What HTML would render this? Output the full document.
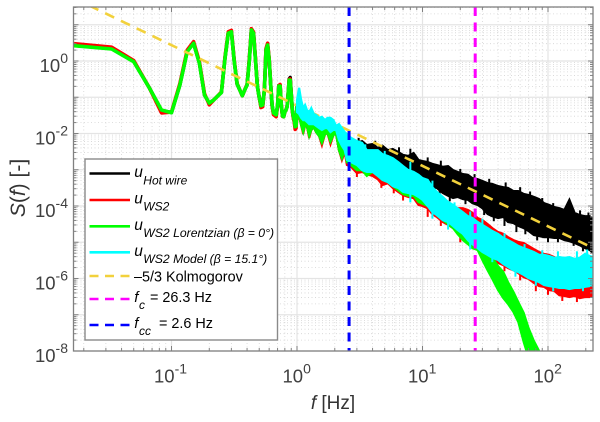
<!DOCTYPE html>
<html lang="en">
<head>
<meta charset="utf-8">
<title>Spectra chart</title>
<style>
html,body{margin:0;padding:0;background:#fff;width:600px;height:422px;overflow:hidden}
svg{display:block;font-family:"Liberation Sans",sans-serif;filter:blur(0.35px)}
</style>
</head>
<body>
<svg id="chart" xmlns="http://www.w3.org/2000/svg" width="600" height="422" viewBox="0 0 600 422">
<defs><clipPath id="plot-clip"><rect x="73.5" y="7" width="519.5" height="344"/></clipPath></defs>
<rect width="600" height="422" fill="#fff"/>
<g id="grid"></g>
<g id="series" clip-path="url(#plot-clip)"></g>
<g id="axes"></g>
<text transform="translate(25,188) rotate(-90)" text-anchor="middle" font-size="21" fill="#333"><tspan font-style="italic">S</tspan>(<tspan font-style="italic">f</tspan>) [-]</text>
<text x="333" y="409" text-anchor="middle" font-size="19" fill="#333"><tspan font-style="italic">f</tspan> [Hz]</text>
<g>
<rect x="85" y="159" width="192.5" height="181" fill="#fff" stroke="#8a8a8a" stroke-width="1.4"/>
<g>
<line x1="89.5" x2="130" y1="173.5" y2="173.5" stroke="#000" stroke-width="2.6"/>
<text x="134.3" y="177" font-size="15.5" font-style="italic">u</text><text x="143.3" y="184.5" font-size="12" font-style="italic">Hot wire</text>
</g>
<g>
<line x1="89.5" x2="130" y1="200" y2="200" stroke="#f00" stroke-width="2.6"/>
<text x="134.3" y="203.5" font-size="15.5" font-style="italic">u</text><text x="143.3" y="210.5" font-size="12" font-style="italic">WS2</text>
</g>
<g>
<line x1="89.5" x2="130" y1="226.3" y2="226.3" stroke="#0f0" stroke-width="2.6"/>
<text x="134.3" y="230" font-size="15.5" font-style="italic">u</text><text x="143.3" y="237" font-size="12.2" font-style="italic">WS2 Lorentzian (β = 0°)</text>
</g>
<g>
<line x1="89.5" x2="130" y1="252.3" y2="252.3" stroke="#0ff" stroke-width="2.6"/>
<text x="134.3" y="256" font-size="15.5" font-style="italic">u</text><text x="143.3" y="263" font-size="12.2" font-style="italic">WS2 Model (β = 15.1°)</text>
</g>
<g>
<line x1="89.5" x2="130" y1="276" y2="276" stroke="#f2d13c" stroke-width="2.6" stroke-dasharray="9 6.5"/>
<text x="134" y="281.7" font-size="14.4">–5/3 Kolmogorov</text>
</g>
<g>
<line x1="89.5" x2="130" y1="299" y2="299" stroke="#f0f" stroke-width="2.6" stroke-dasharray="9 6.5"/>
<text x="134.3" y="302" font-size="15" font-style="italic">f</text><text x="139" y="309" font-size="12" font-style="italic">c</text><text x="150" y="302" font-size="14.4">= 26.3 Hz</text>
</g>
<g>
<line x1="89.5" x2="130" y1="325" y2="325" stroke="#00f" stroke-width="2.6" stroke-dasharray="9 6.5"/>
<text x="134.3" y="328" font-size="15" font-style="italic">f</text><text x="139" y="335" font-size="12" font-style="italic">cc</text><text x="159" y="328" font-size="14.4">= 2.6 Hz</text>
</g>
</g>
</svg>
<script>
// axis tick data
const xTickExponents = [-1, 0, 1, 2];
const yTickExponents = [0, -2, -4, -6, -8];
const xGridDecades = [-2, -1, 0, 1, 2];
const yGridDecades = [-8, -7, -6, -5, -4, -3, -2, -1, 0, 1];
const minorMultipliers = [2, 3, 4, 5, 6, 7, 8, 9];

// low-frequency spectrum (Hz, S)
const lowFreq = [0.0167,0.0333,0.05,0.0667,0.0833,0.1,0.1167,0.1333,0.15,0.1667,0.1833,0.2,0.2167,0.2333,0.25,0.2667,0.2833,0.3,0.3167,0.3333,0.35,0.3667,0.3833,0.4,0.4167,0.4333,0.45,0.4667,0.4833,0.5,0.5167,0.5333,0.55,0.5667,0.5833,0.6,0.6167,0.6333,0.65,0.6667,0.6833,0.7,0.7167,0.7333,0.75,0.7667,0.7833,0.8,0.8167,0.8333,0.85,0.8667,0.8833,0.9,0.9167,0.9333,0.95,0.9667,0.9833,1.0];
const lorentzianLow = [2.64,2.14,0.956,0.18,0.0445,0.0375,0.218,1.8,3.08,0.86,0.115,0.069,0.084,0.108,0.134,1.2,5.9,6.4,0.94,0.232,0.158,0.11,0.158,0.218,1.0,7.2,5.9,1.06,0.196,0.1,0.0585,0.061,0.158,2.0,2.76,1.06,0.218,0.061,0.0367,0.0345,0.0325,0.061,0.204,0.204,0.061,0.0305,0.029,0.039,0.0445,0.054,0.115,0.3,0.3,0.115,0.0445,0.03,0.0235,0.0154,0.016,0.061];
const ws2Low = [3.0,2.4,1.03,0.18,0.037,0.039,0.24,2.0,3.4,0.95,0.125,0.062,0.084,0.108,0.14,1.3,6.4,7.0,1.0,0.24,0.16,0.11,0.16,0.225,1.1,7.8,6.3,1.15,0.2,0.1,0.052,0.055,0.16,2.2,3.1,1.15,0.22,0.058,0.033,0.031,0.029,0.06,0.21,0.225,0.062,0.03,0.029,0.039,0.0445,0.056,0.12,0.31,0.32,0.115,0.042,0.028,0.021,0.013,0.014,0.061];
const hotWireLow = [2.7,2.2,0.98,0.18,0.043,0.038,0.22,1.85,3.1,0.88,0.115,0.068,0.084,0.108,0.135,1.2,6.0,6.5,0.95,0.232,0.158,0.11,0.158,0.22,1.05,7.3,6.0,1.08,0.2,0.1,0.057,0.06,0.16,2.05,2.85,1.08,0.22,0.06,0.036,0.034,0.032,0.06,0.21,0.21,0.06,0.03,0.029,0.039,0.045,0.055,0.118,0.32,0.35,0.118,0.044,0.03,0.023,0.015,0.016,0.061];

// high-frequency noisy envelopes: frequency in Hz, upper and lower log10(S)
const bandFreq = [1.0,1.04,1.08,1.12,1.16,1.2,1.25,1.3,1.36,1.42,1.5,1.58,1.67,1.75,1.85,1.95,2.05,2.16,2.28,2.4,2.5,2.7,3,3.3,3.6,4,4.4,4.8,5.3,5.8,6.4,7,7.7,8.5,9.3,10,11,12,13,14.5,16,17.5,19,21,23,25,27.5,30,33,36,40,44,48,53,58,64,70,77,85,93,102,112,123,135,148,163,179,197,215,229];
const hotWireUpper = [-1.21,-0.94,-1.41,-1.41,-1.49,-1.49,-1.57,-1.57,-1.63,-1.63,-1.68,-1.68,-1.74,-1.74,-1.77,-1.77,-1.90,-1.90,-2.12,-2.12,-2.18,-2.23,-2.26,-2.21,-2.32,-2.29,-2.40,-2.34,-2.46,-2.43,-2.51,-2.59,-2.62,-2.54,-2.73,-2.76,-2.79,-2.84,-2.87,-2.92,-2.90,-3.01,-3.06,-3.12,-3.14,-3.23,-3.26,-3.31,-3.37,-3.39,-3.45,-3.48,-3.50,-3.59,-3.59,-3.67,-3.70,-3.75,-3.81,-3.92,-3.97,-4.03,-4.06,-4.11,-3.83,-4.19,-4.25,-4.28,-4.28,-4.36];
const hotWireLower = [-1.57,-1.52,-1.77,-1.96,-1.77,-1.79,-2.07,-1.90,-1.82,-1.96,-2.07,-2.26,-2.01,-1.99,-2.23,-2.04,-2.01,-2.46,-2.68,-2.46,-2.46,-2.46,-2.51,-2.54,-2.59,-2.62,-2.68,-2.73,-2.81,-2.84,-2.95,-3.01,-3.06,-3.14,-3.23,-3.34,-3.39,-3.48,-3.50,-3.64,-3.72,-3.78,-3.75,-3.81,-3.83,-3.92,-3.97,-4.06,-4.22,-4.28,-4.33,-4.30,-4.44,-4.47,-4.55,-4.61,-4.69,-4.80,-4.83,-4.86,-4.86,-4.88,-4.88,-4.94,-4.97,-5.02,-5.08,-5.16,-5.21,-5.30];
const ws2Upper = [-1.21,-0.94,-1.41,-1.41,-1.49,-1.49,-1.57,-1.57,-1.63,-1.63,-1.68,-1.68,-1.74,-1.74,-1.77,-1.77,-1.90,-1.90,-2.12,-2.12,-2.40,-2.46,-2.59,-2.68,-2.73,-2.79,-2.87,-2.95,-3.01,-3.06,-3.14,-3.23,-3.28,-3.34,-3.45,-3.56,-3.61,-3.72,-3.78,-3.83,-3.94,-4.00,-4.06,-4.06,-4.11,-4.19,-4.33,-4.39,-4.50,-4.61,-4.72,-4.77,-4.86,-4.94,-4.99,-5.02,-5.10,-5.19,-5.27,-5.32,-5.35,-5.41,-5.46,-5.49,-5.52,-5.54,-5.54,-5.54,-5.54,-5.54];
const ws2Lower = [-1.57,-1.52,-1.77,-2.01,-1.77,-1.79,-2.12,-1.90,-1.82,-1.96,-2.07,-2.32,-2.01,-1.99,-2.29,-2.04,-2.01,-2.46,-2.73,-2.51,-2.87,-2.92,-3.09,-3.06,-3.12,-3.17,-3.26,-3.42,-3.37,-3.50,-3.61,-3.70,-3.75,-3.78,-3.97,-4.00,-4.06,-4.22,-4.30,-4.44,-4.52,-4.61,-4.72,-4.88,-4.97,-5.05,-5.16,-5.27,-5.38,-5.46,-5.57,-5.63,-5.71,-5.77,-5.85,-5.96,-6.01,-6.12,-6.21,-6.23,-6.32,-6.34,-6.46,-6.48,-6.51,-6.48,-6.54,-6.51,-6.51,-6.46];
const lorentzianUpper = [-1.21,-0.94,-1.41,-1.41,-1.49,-1.49,-1.57,-1.57,-1.63,-1.63,-1.68,-1.68,-1.74,-1.74,-1.77,-1.77,-1.90,-1.90,-2.12,-2.12,-2.46,-2.51,-2.62,-2.68,-2.73,-2.79,-2.87,-2.95,-3.01,-3.06,-3.14,-3.23,-3.28,-3.34,-3.45,-3.56,-3.61,-3.72,-3.78,-3.89,-4.00,-4.11,-4.22,-4.44,-4.61,-4.77,-4.94,-5.10,-5.27,-5.43,-5.66,-5.82,-6.10,-6.37,-6.65,-6.95,-7.37,-7.72,-8.00];
const lorentzianLower = [-1.57,-1.52,-1.77,-1.96,-1.77,-1.79,-2.07,-1.90,-1.82,-1.96,-2.07,-2.26,-2.01,-1.99,-2.23,-2.04,-2.01,-2.46,-2.68,-2.46,-2.79,-2.87,-3.01,-3.01,-3.17,-3.06,-3.17,-3.28,-3.34,-3.45,-3.56,-3.67,-3.72,-3.72,-3.89,-3.94,-4.00,-4.11,-4.25,-4.39,-4.50,-4.61,-4.77,-4.94,-5.05,-5.16,-5.21,-5.49,-5.77,-6.01,-6.32,-6.54,-6.70,-6.92,-7.20,-7.75,-8.19,-8.66,-8.80];
const modelUpper = [-1.08,-0.74,-1.08,-1.30,-1.21,-1.35,-1.41,-1.30,-1.46,-1.49,-1.57,-1.54,-1.63,-1.57,-1.57,-1.63,-1.79,-1.74,-1.85,-1.96,-2.01,-2.12,-2.21,-2.26,-2.46,-2.46,-2.46,-2.57,-2.62,-2.68,-2.79,-2.90,-3.01,-3.06,-3.14,-3.23,-3.28,-3.48,-3.61,-3.75,-3.89,-3.97,-4.06,-4.17,-4.28,-4.33,-4.44,-4.52,-4.61,-4.69,-4.77,-4.88,-4.94,-5.02,-5.10,-5.16,-5.21,-5.27,-5.35,-5.35,-5.38,-5.43,-5.41,-5.43,-5.41,-5.46,-5.43,-5.32,-5.38,-5.41];
const modelLower = [-1.41,-1.46,-1.57,-1.63,-1.63,-1.68,-1.74,-1.74,-1.74,-1.79,-1.85,-1.90,-1.85,-1.85,-1.96,-1.90,-1.90,-2.18,-2.34,-2.46,-2.73,-2.79,-2.87,-3.01,-3.06,-3.06,-3.17,-3.28,-3.34,-3.45,-3.50,-3.61,-3.64,-3.67,-3.75,-3.83,-4.00,-4.17,-4.25,-4.39,-4.44,-4.55,-4.66,-4.77,-4.94,-5.05,-5.16,-5.27,-5.35,-5.43,-5.49,-5.60,-5.68,-5.77,-5.82,-5.90,-5.99,-6.04,-6.10,-6.18,-6.21,-6.23,-6.26,-6.26,-6.29,-6.26,-6.26,-6.23,-6.21,-6.12];

// isolated noise spikes beyond the envelopes: frequency in Hz, tip log10(S)
const hotWireTopSpikeFreq = [3.1,4.2,6.5,8,11,14,20,26,34,46,60,72,90,110,180,210];
const hotWireTopSpikeTip = [-2.12,-2.2,-2.38,-2.42,-2.66,-2.75,-2.98,-3.12,-3.25,-3.35,-3.48,-3.6,-3.78,-3.92,-4.12,-4.18];
const hotWireLowSpikeFreq = [7.3,9.9,13.7,16.5,22,31,37,45,56,66,82,100,120,160,190];
const hotWireLowSpikeTip = [-3.1,-3.5,-3.68,-3.87,-3.95,-4.25,-4.42,-4.55,-4.72,-4.78,-4.95,-5.0,-5.0,-5.1,-5.25];
const ws2LowSpikeFreq = [3,4.7,5.9,7,11,14,20,45,60,80,100,130,170];
const ws2LowSpikeTip = [-3.2,-3.5,-3.65,-3.85,-4.3,-4.55,-5.0,-5.8,-6.05,-6.35,-6.45,-6.62,-6.65];
const modelTopSpikeFreq = [3.5,5,8,12,18,24,30,45,65,90,120,170,205];
const modelTopSpikeTip = [-2.3,-2.48,-2.78,-3.3,-3.9,-4.15,-4.35,-4.75,-5.05,-5.22,-5.25,-5.25,-5.2];
const modelLowSpikeFreq = [8,12,16,24,36,55,80,110,190];
const modelLowSpikeTip = [-3.9,-4.35,-4.65,-5.2,-5.55,-5.95,-6.2,-6.35,-6.35];

// reference line and cutoff frequencies
const kolmogorovFreq = [0.0166, 229];
const kolmogorovS = [54.8, 0.0000069];
const cutoffFc = 26.3;
const cutoffFcc = 2.6;

const NS = 'http://www.w3.org/2000/svg';
const xScale = f => 297 + 125.5 * Math.log10(f);
const yScale = s => 61 - 36.25 * Math.log10(s);
const yLog = e => yScale(Math.pow(10, e));
const plotLeft = 73.5, plotRight = 593, plotTop = 7, plotBottom = 351;

function make(tag, parent, attrs) {
  const el = document.createElementNS(NS, tag);
  Object.keys(attrs).forEach(k => el.setAttribute(k, attrs[k]));
  parent.appendChild(el);
  return el;
}

const grid = document.getElementById('grid');
const axes = document.getElementById('axes');
const seriesGroup = document.getElementById('series');

function gridLine(x1, y1, x2, y2, major, name) {
  const attrs = { x1, y1, x2, y2, stroke: major ? '#e4e4e4' : '#d4d4d4', 'stroke-width': major ? 1.2 : 0.8 };
  if (!major) attrs['stroke-dasharray'] = '1 2.5';
  const el = make('line', grid, attrs);
  
  
}
function tick(x1, y1, x2, y2) {
  const el = make('line', axes, { x1, y1, x2, y2, stroke: '#808080', 'stroke-width': 1 });
  
  
}

xGridDecades.forEach(d => {
  const major = xScale(Math.pow(10, d));
  if (major >= plotLeft && major <= plotRight) {
    gridLine(major, plotTop, major, plotBottom, true, 'x-major-gridline');
    tick(major, plotBottom, major, plotBottom - 5);
    tick(major, plotTop, major, plotTop + 5);
  }
  minorMultipliers.forEach(m => {
    const x = xScale(m * Math.pow(10, d));
    if (x >= plotLeft && x <= plotRight) {
      gridLine(x, plotTop, x, plotBottom, false, 'x-minor-gridline');
      tick(x, plotBottom, x, plotBottom - 3);
      tick(x, plotTop, x, plotTop + 3);
    }
  });
});
yGridDecades.forEach(d => {
  const major = yScale(Math.pow(10, d));
  if (major >= plotTop && major <= plotBottom) {
    gridLine(plotLeft, major, plotRight, major, true, 'y-major-gridline');
    tick(plotLeft, major, plotLeft + 5, major);
    tick(plotRight, major, plotRight - 5, major);
  }
  minorMultipliers.forEach(m => {
    const y = yScale(m * Math.pow(10, d));
    if (y >= plotTop && y <= plotBottom) {
      gridLine(plotLeft, y, plotRight, y, false, 'y-minor-gridline');
      tick(plotLeft, y, plotLeft + 3, y);
      tick(plotRight, y, plotRight - 3, y);
    }
  });
});

function bandPath(upper, lower) {
  const top = upper.map((e, i) => xScale(bandFreq[i]).toFixed(1) + ',' + yLog(e).toFixed(1));
  const bottom = lower.map((e, i) => xScale(bandFreq[i]).toFixed(1) + ',' + yLog(e).toFixed(1)).reverse();
  return 'M' + top.join('L') + 'L' + bottom.join('L') + 'Z';
}
function linePath(freqs, values) {
  return 'M' + values.map((s, i) => xScale(freqs[i]).toFixed(1) + ',' + yScale(s).toFixed(1)).join('L');
}
function drawLine(freqs, values, color, name) {
  const line = make('path', seriesGroup, { d: linePath(freqs, values), fill: 'none', stroke: color, 'stroke-width': 3.6, 'stroke-linejoin': 'round' });
  
  
}
function drawBand(upper, lower, color, name) {
  const band = make('path', seriesGroup, { d: bandPath(upper, lower), fill: color, stroke: color, 'stroke-width': 2.2, 'stroke-linejoin': 'miter' });
  
  
}
function drawSpikes(freqs, tips, direction, color, name) {
  tips.forEach((tip, i) => {
    const x = xScale(freqs[i]);
    const spike = make('line', seriesGroup, { x1: x, x2: x, y1: yLog(tip), y2: yLog(tip + direction * 0.4), stroke: color, 'stroke-width': 2 });
    
    
  });
}

drawLine(lowFreq, hotWireLow, '#000', 'hot-wire-line');
drawBand(hotWireUpper, hotWireLower, '#000', 'hot-wire-band');
drawSpikes(hotWireTopSpikeFreq, hotWireTopSpikeTip, -1, '#000', 'hot-wire-top-spike');
drawSpikes(hotWireLowSpikeFreq, hotWireLowSpikeTip, 1, '#000', 'hot-wire-low-spike');
drawLine(lowFreq, ws2Low, '#f00', 'ws2-line');
drawBand(ws2Upper, ws2Lower, '#f00', 'ws2-band');
drawSpikes(ws2LowSpikeFreq, ws2LowSpikeTip, 1, '#f00', 'ws2-low-spike');
drawLine(lowFreq, lorentzianLow, '#0f0', 'ws2-lorentzian-line');
drawBand(lorentzianUpper, lorentzianLower, '#0f0', 'ws2-lorentzian-band');

const kolmogorovLine = make('path', seriesGroup, { d: linePath(kolmogorovFreq, kolmogorovS), fill: 'none', stroke: '#f2d13c', 'stroke-width': 2.6, 'stroke-dasharray': '10 7.5' });



drawBand(modelUpper, modelLower, '#0ff', 'ws2-model-band');
drawSpikes(modelTopSpikeFreq, modelTopSpikeTip, -1, '#0ff', 'ws2-model-top-spike');
drawSpikes(modelLowSpikeFreq, modelLowSpikeTip, 1, '#0ff', 'ws2-model-low-spike');

const fcLine = make('line', seriesGroup, { x1: xScale(cutoffFc), x2: xScale(cutoffFc), y1: plotTop, y2: plotBottom, stroke: '#f0f', 'stroke-width': 3, 'stroke-dasharray': '9 6.5' });



const fccLine = make('line', seriesGroup, { x1: xScale(cutoffFcc), x2: xScale(cutoffFcc), y1: plotTop, y2: plotBottom, stroke: '#00f', 'stroke-width': 3, 'stroke-dasharray': '9 6.5' });



const frame = make('rect', axes, { x: plotLeft, y: plotTop, width: plotRight - plotLeft, height: plotBottom - plotTop, fill: 'none', stroke: '#808080', 'stroke-width': 1.3 });



function powerLabel(exp, x, y, anchor, name) {
  const t = make('text', axes, { x, y, 'text-anchor': anchor, 'font-size': 18.5, fill: '#404040' });
  
  
  const base = make('tspan', t, {});
  base.textContent = '10';
  const sup = make('tspan', t, { dy: -9, 'font-size': 14 });
  sup.textContent = String(exp);
}
xTickExponents.forEach(e => {
  const x = xScale(Math.pow(10, e));
  powerLabel(e, x - (e < 0 ? 17.5 : 14.5), 382.7, 'start', 'x-tick-label');
});
yTickExponents.forEach(e => {
  const y = yScale(Math.pow(10, e));
  powerLabel(e, 68, y + 11, 'end', 'y-tick-label');
});
</script>
</body>
</html>
